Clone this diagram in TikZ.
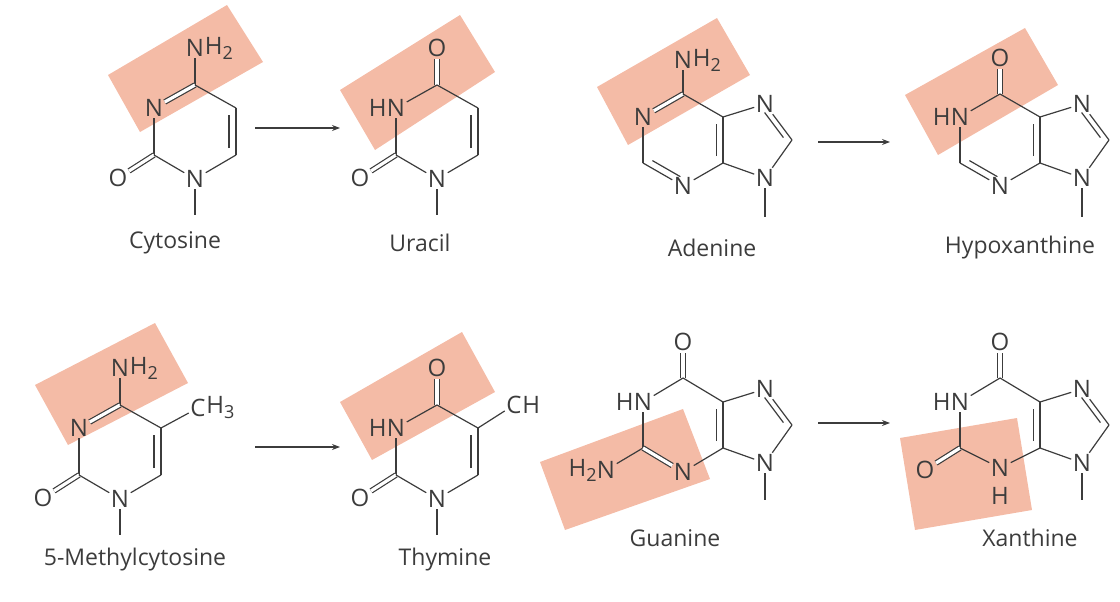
\documentclass[tikz,border=0pt]{standalone}
\usepackage{fontspec}
\setmainfont{Open Sans}
\usetikzlibrary{calc,arrows.meta}
\definecolor{ink}{HTML}{3C3C3C}
\definecolor{hl}{HTML}{F4BBA6}
\tikzset{
 bond/.style={draw=ink,line width=1.2pt},
 dbl/.style={draw=ink,line width=1.2pt,double,double distance=3.2pt},
 atomlbl/.style={text=ink,font=\fontsize{24}{24}\selectfont,inner sep=1.5pt},
 sublbl/.style={text=ink,font=\fontsize{24}{24}\selectfont,inner sep=0pt},
 molname/.style={text=ink,font=\fontsize{23}{23}\selectfont},
 hlbox/.style={fill=hl,draw=none},
 rxn/.style={draw=ink,line width=1.2pt,-{Stealth[length=8pt,width=6pt]}}
}
\newcommand\sbs[1]{\raisebox{-5pt}{\fontsize{18}{18}\selectfont #1}}
\newcommand\ringdb[3]{\draw[bond,shorten <=3pt,shorten >=3pt] ($(#1)!0.17!(#3)$) -- ($(#2)!0.17!(#3)$);}
\begin{document}
\begin{tikzpicture}[x=1pt,y=-1pt]
\useasboundingbox (0,0) rectangle (1120,602);
% highlights
\fill[hlbox] (108,75)--(227,5)--(263,62)--(140,132)--cycle;
\fill[hlbox] (340,90)--(460,15)--(495,72)--(375,150)--cycle;
\fill[hlbox] (597,87)--(717,18)--(750,75)--(628,145)--cycle;
\fill[hlbox] (905,95)--(1025,28)--(1058,85)--(938,155)--cycle;
\fill[hlbox] (35,385)--(155,323)--(188,383)--(68,445)--cycle;
\fill[hlbox] (340,402)--(462,332)--(495,392)--(372,460)--cycle;
\fill[hlbox] (540,462)--(683,409)--(710,479)--(565,530)--cycle;
\fill[hlbox] (900,438)--(1017,418)--(1032,510)--(915,530)--cycle;

% ---------- Cytosine
\coordinate (cc) at (195,132);
\coordinate (c4) at (195,85); \coordinate (c2) at (154,155);
\coordinate (c6) at (236,155); \coordinate (c5) at (236,108);
\coordinate (cme) at (195,215);
\node[atomlbl] (cn4) at (195,48) {N}; \node[sublbl,anchor=west] at ([xshift=-1pt]cn4.east) {H\sbs{2}};
\node[atomlbl] (cn3) at (154,108) {N};
\node[atomlbl] (cn1) at (195,179) {N};
\node[atomlbl] (co2) at (118,178) {O};
\draw[bond] (c4)--(cn4); \draw[dbl] (c4)--(cn3); \draw[bond] (cn3)--(c2);
\draw[dbl] (c2)--(co2); \draw[bond] (c2)--(cn1); \draw[bond] (cn1)--(c6);
\draw[bond] (c6)--(c5); \ringdb{c6}{c5}{cc} \draw[bond] (c5)--(c4);
\draw[bond] (cn1)--(cme);
\node[molname] (lc) at (175,243) {Cytosine};

% ---------- Uracil
\coordinate (uc) at (437,132);
\coordinate (u4) at (437,85); \coordinate (u2) at (396,155);
\coordinate (u6) at (478,155); \coordinate (u5) at (478,108);
\coordinate (ume) at (437,215);
\node[atomlbl] (uo4) at (437,48) {O};
\node[atomlbl] (un3) at (396,108) {N}; \node[sublbl,anchor=east] at ([xshift=1.5pt]un3.west) {H};
\node[atomlbl] (un1) at (437,179) {N};
\node[atomlbl] (uo2) at (360,178) {O};
\draw[dbl] (u4)--(uo4); \draw[bond] (u4)--(un3); \draw[bond] (un3)--(u2);
\draw[dbl] (u2)--(uo2); \draw[bond] (u2)--(un1); \draw[bond] (un1)--(u6);
\draw[bond] (u6)--(u5); \ringdb{u6}{u5}{uc} \draw[bond] (u5)--(u4);
\draw[bond] (un1)--(ume);
\node[molname] (lu) at (420,243) {Uracil};

% ---------- 5-Methylcytosine
\coordinate (mc) at (120,452);
\coordinate (m4) at (120,405); \coordinate (m2) at (79,475);
\coordinate (m6) at (161,475); \coordinate (m5) at (161,428);
\coordinate (mme) at (120,535);
\node[atomlbl] (mn4) at (120,368) {N}; \node[sublbl,anchor=west] at ([xshift=-1pt]mn4.east) {H\sbs{2}};
\node[atomlbl] (mn3) at (79,428) {N};
\node[atomlbl] (mn1) at (120,499) {N};
\node[atomlbl] (mo2) at (43,498) {O};
\node[atomlbl] (mch) at (198,408) {C}; \node[sublbl,anchor=west] at ([xshift=-1pt]mch.east) {H\sbs{3}};
\draw[bond] (m4)--(mn4); \draw[dbl] (m4)--(mn3); \draw[bond] (mn3)--(m2);
\draw[dbl] (m2)--(mo2); \draw[bond] (m2)--(mn1); \draw[bond] (mn1)--(m6);
\draw[bond] (m6)--(m5); \ringdb{m6}{m5}{mc} \draw[bond] (m5)--(m4);
\draw[bond] (m5)--(mch); \draw[bond] (mn1)--(mme);
\node[molname] (lm) at (135,560) {5-Methylcytosine};

% ---------- Thymine
\coordinate (tc) at (437,452);
\coordinate (t4) at (437,405); \coordinate (t2) at (396,475);
\coordinate (t6) at (478,475); \coordinate (t5) at (478,428);
\coordinate (tme) at (437,535);
\node[atomlbl] (to4) at (437,368) {O};
\node[atomlbl] (tn3) at (396,428) {N}; \node[sublbl,anchor=east] at ([xshift=1.5pt]tn3.west) {H};
\node[atomlbl] (tn1) at (437,499) {N};
\node[atomlbl] (to2) at (360,498) {O};
\node[atomlbl] (tch) at (514,405) {C}; \node[sublbl,anchor=west] at ([xshift=-1pt]tch.east) {H};
\draw[dbl] (t4)--(to4); \draw[bond] (t4)--(tn3); \draw[bond] (tn3)--(t2);
\draw[dbl] (t2)--(to2); \draw[bond] (t2)--(tn1); \draw[bond] (tn1)--(t6);
\draw[bond] (t6)--(t5); \ringdb{t6}{t5}{tc} \draw[bond] (t5)--(t4);
\draw[bond] (t5)--(tch); \draw[bond] (tn1)--(tme);
\node[molname] (lt) at (445,560) {Thymine};

% ---------- Adenine
\coordinate (ac) at (683,140); \coordinate (af) at (752,140);
\coordinate (a6) at (683,94); \coordinate (a2) at (643,163);
\coordinate (a4) at (723,163); \coordinate (a5) at (723,117);
\coordinate (a8) at (792,140); \coordinate (ame) at (765,217);
\node[atomlbl] (an6) at (683,60) {N}; \node[sublbl,anchor=west] at ([xshift=-1pt]an6.east) {H\sbs{2}};
\node[atomlbl] (an1) at (643,117) {N};
\node[atomlbl] (an3) at (683,186) {N};
\node[atomlbl] (an7) at (765,104) {N};
\node[atomlbl] (an9) at (765,178) {N};
\draw[bond] (a6)--(an6); \draw[dbl] (a6)--(an1); \draw[bond] (an1)--(a2);
\draw[bond] (a2)--(an3); \ringdb{a2}{an3}{ac} \draw[bond] (an3)--(a4);
\draw[bond] (a4)--(a5); \ringdb{a4}{a5}{ac} \draw[bond] (a5)--(a6);
\draw[bond] (a5)--(an7); \draw[bond] (an7)--(a8); \ringdb{an7}{a8}{af}
\draw[bond] (a8)--(an9); \draw[bond] (an9)--(a4); \draw[bond] (an9)--(ame);
\node[molname] (la) at (712,248) {Adenine};

% ---------- Hypoxanthine
\coordinate (hc) at (1000,140); \coordinate (hf) at (1069,140);
\coordinate (h6) at (1000,94); \coordinate (h2) at (960,163);
\coordinate (h4) at (1040,163); \coordinate (h5) at (1040,117);
\coordinate (h8) at (1109,140); \coordinate (hme) at (1082,217);
\node[atomlbl] (ho6) at (1000,58) {O};
\node[atomlbl] (hn1) at (960,117) {N}; \node[sublbl,anchor=east] at ([xshift=1.5pt]hn1.west) {H};
\node[atomlbl] (hn3) at (1000,186) {N};
\node[atomlbl] (hn7) at (1082,104) {N};
\node[atomlbl] (hn9) at (1082,178) {N};
\draw[dbl] (h6)--(ho6); \draw[bond] (h6)--(hn1); \draw[bond] (hn1)--(h2);
\draw[bond] (h2)--(hn3); \ringdb{h2}{hn3}{hc} \draw[bond] (hn3)--(h4);
\draw[bond] (h4)--(h5); \ringdb{h4}{h5}{hc} \draw[bond] (h5)--(h6);
\draw[bond] (h5)--(hn7); \draw[bond] (hn7)--(h8); \ringdb{hn7}{h8}{hf}
\draw[bond] (h8)--(hn9); \draw[bond] (hn9)--(h4); \draw[bond] (hn9)--(hme);
\node[molname] (lh) at (1020,248) {Hypoxanthine};

% ---------- Guanine
\coordinate (gc) at (683,425); \coordinate (gf) at (752,425);
\coordinate (g6) at (683,378); \coordinate (g2) at (643,448);
\coordinate (g4) at (723,448); \coordinate (g5) at (723,402);
\coordinate (g8) at (792,425); \coordinate (gme) at (765,500);
\node[atomlbl] (go6) at (683,342) {O};
\node[atomlbl] (gn1) at (643,402) {N}; \node[sublbl,anchor=east] at ([xshift=1.5pt]gn1.west) {H};
\node[atomlbl] (gn2) at (606,470) {N}; \node[sublbl,anchor=east] at ([xshift=1.5pt]gn2.west) {H\sbs{2}};
\node[atomlbl] (gn3) at (683,472) {N};
\node[atomlbl] (gn7) at (765,389) {N};
\node[atomlbl] (gn9) at (765,463) {N};
\draw[dbl] (g6)--(go6); \draw[bond] (g6)--(gn1); \draw[bond] (gn1)--(g2);
\draw[bond] (g2)--(gn2); \draw[dbl] (g2)--(gn3); \draw[bond] (gn3)--(g4);
\draw[bond] (g4)--(g5); \ringdb{g4}{g5}{gc} \draw[bond] (g5)--(g6);
\draw[bond] (g5)--(gn7); \draw[bond] (gn7)--(g8); \ringdb{gn7}{g8}{gf}
\draw[bond] (g8)--(gn9); \draw[bond] (gn9)--(g4); \draw[bond] (gn9)--(gme);
\node[molname] (lg) at (675,538) {Guanine};

% ---------- Xanthine
\coordinate (xc) at (1000,425); \coordinate (xf) at (1069,425);
\coordinate (x6) at (1000,378); \coordinate (x2) at (960,448);
\coordinate (x4) at (1040,448); \coordinate (x5) at (1040,402);
\coordinate (x8) at (1109,425); \coordinate (xme) at (1082,500);
\node[atomlbl] (xo6) at (1000,342) {O};
\node[atomlbl] (xn1) at (960,402) {N}; \node[sublbl,anchor=east] at ([xshift=1.5pt]xn1.west) {H};
\node[atomlbl] (xo2) at (925,470) {O};
\node[atomlbl] (xn3) at (1000,468) {N}; \node[sublbl] (xh3) at (1000,496) {H};
\node[atomlbl] (xn7) at (1082,389) {N};
\node[atomlbl] (xn9) at (1082,463) {N};
\draw[dbl] (x6)--(xo6); \draw[bond] (x6)--(xn1); \draw[bond] (xn1)--(x2);
\draw[dbl] (x2)--(xo2); \draw[bond] (x2)--(xn3); \draw[bond] (xn3)--(x4);
\draw[bond] (x4)--(x5); \ringdb{x4}{x5}{xc} \draw[bond] (x5)--(x6);
\draw[bond] (x5)--(xn7); \draw[bond] (xn7)--(x8); \ringdb{xn7}{x8}{xf}
\draw[bond] (x8)--(xn9); \draw[bond] (xn9)--(x4); \draw[bond] (xn9)--(xme);
\node[molname] (lx) at (1030,538) {Xanthine};

% ---------- arrows
\coordinate (r1a) at (255,128); \coordinate (r1b) at (340,128);
\coordinate (r2a) at (255,447); \coordinate (r2b) at (340,447);
\coordinate (r3a) at (818,142); \coordinate (r3b) at (890,142);
\coordinate (r4a) at (818,423); \coordinate (r4b) at (890,423);
\draw[rxn] (r1a)--(r1b); \draw[rxn] (r2a)--(r2b);
\draw[rxn] (r3a)--(r3b); \draw[rxn] (r4a)--(r4b);
\end{tikzpicture}
\end{document}
